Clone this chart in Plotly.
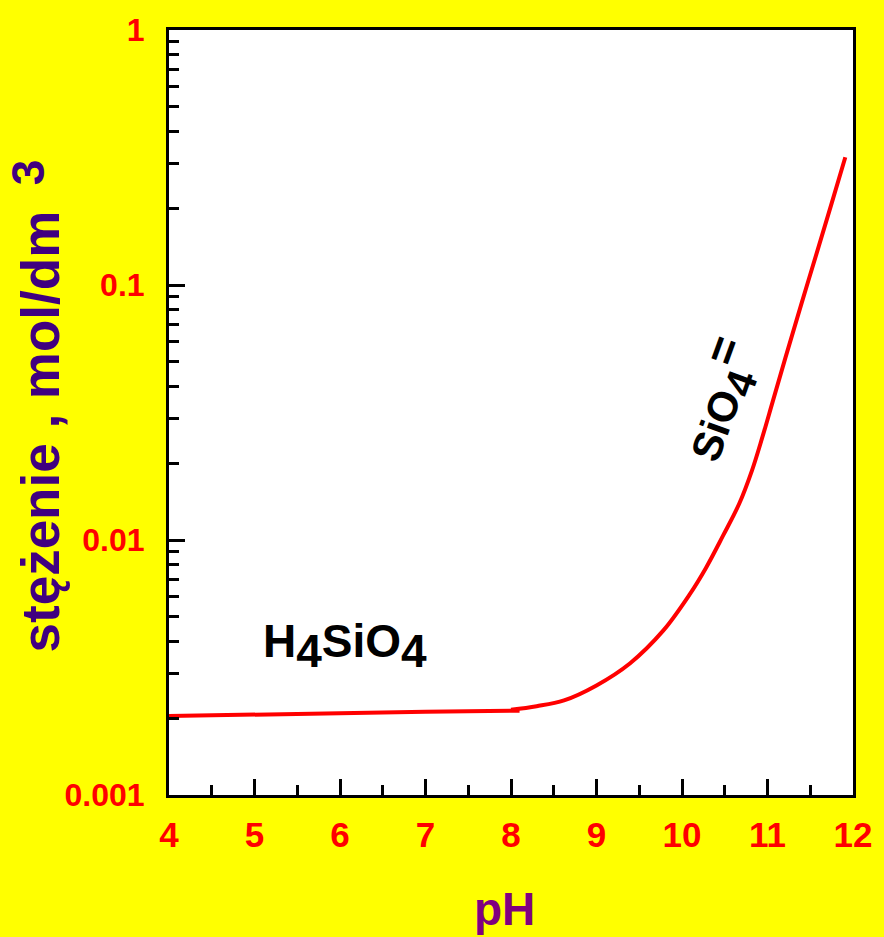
import plotly.graph_objects as go

# --- data ---
ph_h4sio4 = [4.0, 5.0, 6.0, 7.0, 8.1]
c_h4sio4 = [0.00204, 0.00207, 0.00209, 0.00212, 0.00214]

ph_total = [8.0, 8.3, 8.62, 9.0, 9.39, 9.78, 10.09, 10.28, 10.48, 10.67, 10.82,
            10.94, 11.06, 11.21, 11.40, 11.60, 11.75, 11.91]
c_total = [0.00216, 0.00223, 0.00235, 0.00269, 0.00328, 0.00441, 0.00612, 0.00777,
           0.0104, 0.0139, 0.0188, 0.0253, 0.0348, 0.0519, 0.0851, 0.142, 0.209, 0.317]

x_ticks = [4, 5, 6, 7, 8, 9, 10, 11, 12]
y_tickvals = [0.001, 0.01, 0.1, 1]
y_ticktext = ["0.001", "0.01", "0.1", "1"]

FONT = "Liberation Sans, Arial, sans-serif"
RED = "#ff0000"

fig = go.Figure()
fig.add_trace(go.Scatter(x=ph_h4sio4, y=c_h4sio4, mode="lines",
                         line=dict(color=RED, width=4), showlegend=False))
fig.add_trace(go.Scatter(x=ph_total, y=c_total, mode="lines",
                         line=dict(color=RED, width=4, shape="spline", smoothing=1.0),
                         showlegend=False))

fig.update_layout(
    width=884, height=937,
    margin=dict(l=169, r=26, t=27, b=142),
    paper_bgcolor="#ffff00",
    plot_bgcolor="#ffffff",
    font=dict(family=FONT),
)

fig.update_xaxes(
    range=[4, 12], tickvals=x_ticks,
    ticks="inside", ticklen=16, tickwidth=3, tickcolor="black",
    showline=True, linewidth=3, linecolor="black", mirror=True,
    showgrid=False, zeroline=False,
    tickfont=dict(family=FONT, size=35, color=RED, weight="bold"),
    ticklabelstandoff=7,
    minor=dict(dtick=0.5, ticks="inside", ticklen=10, tickwidth=3, tickcolor="black", showgrid=False),
)
fig.update_yaxes(
    type="log", range=[-3, 0], tickvals=y_tickvals, ticktext=y_ticktext,
    ticks="inside", ticklen=16, tickwidth=3, tickcolor="black",
    showline=True, linewidth=3, linecolor="black", mirror=True,
    showgrid=False, zeroline=False,
    tickfont=dict(family=FONT, size=32, color=RED, weight="bold"),
    ticklabelstandoff=15,
    minor=dict(dtick="D1", ticks="inside", ticklen=10, tickwidth=3, tickcolor="black", showgrid=False),
)

# axis titles
fig.add_annotation(xref="paper", yref="paper", x=0.4906, y=-0.1484,
                   text="pH", showarrow=False,
                   font=dict(family=FONT, size=46, color="#800080", weight="bold"),
                   xanchor="center", yanchor="middle")
fig.add_annotation(xref="paper", yref="paper", x=-0.1885, y=0.4753,
                   text="stężenie , mol/dm", showarrow=False, textangle=-90,
                   font=dict(family=FONT, size=53, color="#400080", weight="bold"),
                   xanchor="center", yanchor="middle")
fig.add_annotation(xref="paper", yref="paper", x=-0.205, y=0.8138,
                   text="3", showarrow=False, textangle=-90,
                   font=dict(family=FONT, size=46, color="#400080", weight="bold"),
                   xanchor="center", yanchor="middle")

# species labels
fig.add_annotation(xref="paper", yref="paper", x=0.2569, y=0.1953,
                   text='H<sub><span style="font-size:46px">4</span></sub>SiO<sub><span style="font-size:46px">4</span></sub>',
                   showarrow=False,
                   font=dict(family=FONT, size=46, color="black", weight="bold"),
                   xanchor="center", yanchor="middle")
fig.add_annotation(xref="paper", yref="paper", x=0.803, y=0.517,
                   text='SiO<sub><span style="font-size:42px">4</span></sub><sup><span style="font-size:46px">=</span></sup>',
                   showarrow=False, textangle=-70,
                   font=dict(family=FONT, size=42, color="black", weight="bold"),
                   xanchor="center", yanchor="middle")

fig.write_html(
    "out.html",
    config={"displayModeBar": False},
    post_script="document.body.style.margin='0';document.body.style.background='#ffff00';"
                "document.documentElement.style.overflow='hidden';",
)
